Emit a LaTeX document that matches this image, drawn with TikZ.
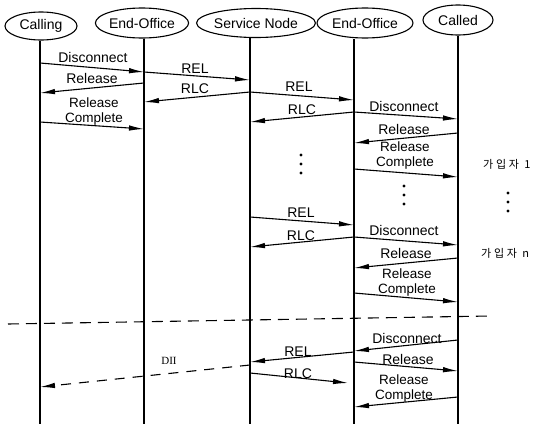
\documentclass[tikz,border=0pt]{standalone}
\usepackage{fontspec}
\setmainfont{Liberation Sans}
\newfontfamily\krfont[LetterSpace=25]{Noto Sans CJK KR}
\newfontfamily\serifx{Liberation Serif}
\usetikzlibrary{arrows.meta,shapes.geometric}
\begin{document}
\begin{tikzpicture}[x=1pt,y=-1pt,
  head/.style={ellipse, draw, line width=1.1pt, inner sep=0pt, font=\fontsize{14}{15}\selectfont},
  life/.style={line width=2.4pt},
  msg/.style={line width=1.1pt, -{Latex[length=15pt,width=5.5pt]}},
  dmsg/.style={msg, dash pattern=on 10pt off 8pt},
  lbl/.style={anchor=base, inner sep=0pt, font=\fontsize{14}{15}\selectfont},
  lbl2/.style={anchor=north, inner sep=0pt, align=center, font=\fontsize{13.5}{14.5}\selectfont},
  krlbl/.style={anchor=west, inner sep=0pt, font=\fontsize{11}{12}\krfont},
  dotmark/.style={fill=black}]
\useasboundingbox (0,0) rectangle (542,434);

% headers
\node[head, minimum width=72pt, minimum height=28pt] (calling) at (41,26) {Calling};
\node[head, minimum width=92pt, minimum height=30pt] (eo1) at (142,23) {End-Office};
\node[head, minimum width=108pt, minimum height=29pt] (sn) at (256,23) {Service Node};
\node[head, minimum width=96pt, minimum height=30pt] (eo2) at (365,23) {End-Office};
\node[head, minimum width=70pt, minimum height=30pt] (called) at (458,20) {Called};

% lifeline positions
\coordinate (C) at (40,0);
\coordinate (E1) at (144,0);
\coordinate (S) at (250,0);
\coordinate (E2) at (354,0);
\coordinate (D) at (458,0);

\draw[life] (C |- calling.south) -- (C |- 0,424);
\draw[life] (E1 |- eo1.south) -- (E1 |- 0,424);
\draw[life] (S |- sn.south) -- (S |- 0,424);
\draw[life] (E2 |- eo2.south) -- (E2 |- 0,424);
\draw[life] (D |- called.south) -- (D |- 0,424);

% first block
\draw[msg] (C |- 0,63) -- (E1 |- 0,72);
\node[lbl] (t1) at (93,62) {Disconnect};
\draw[msg] (E1 |- 0,72) -- (S |- 0,80);
\node[lbl] (t2) at (195,73) {REL};
\draw[msg] (E1 |- 0,83) -- (C |- 0,93);
\node[lbl] (t3) at (92,83) {Release};
\draw[msg] (S |- 0,92) -- (E1 |- 0,102);
\node[lbl] (t4) at (195,93) {RLC};
\draw[msg] (C |- 0,122) -- (E1 |- 0,129);
\node[lbl2] (t5) at (94,98) {Release\\Complete};

\draw[msg] (S |- 0,92) -- (E2 |- 0,100);
\node[lbl] (t6) at (299,91) {REL};
\draw[msg] (E2 |- 0,112) -- (S |- 0,122);
\node[lbl] (t7) at (302,114) {RLC};
\draw[msg] (E2 |- 0,112) -- (D |- 0,119);
\node[lbl] (t8) at (404,111) {Disconnect};
\draw[msg] (D |- 0,133) -- (E2 |- 0,143);
\node[lbl] (t9) at (404,134) {Release};
\draw[msg] (E2 |- 0,169) -- (D |- 0,177);
\node[lbl2] (t10) at (405,142) {Release\\Complete};

% dots
\fill[dotmark] (301,155) circle (1.7) (301,164) circle (1.7) (301,173) circle (1.7);
\fill[dotmark] (404,186) circle (1.7) (404,195) circle (1.7) (404,204) circle (1.7);
\fill[dotmark] (508,193) circle (1.7) (508,202) circle (1.7) (508,211) circle (1.7);

\node[krlbl] (k1) at (483,164) {가입자 1};
\node[krlbl] (k2) at (481,253) {가입자 n};

% second block
\draw[msg] (S |- 0,217) -- (E2 |- 0,225);
\node[lbl] (t11) at (301,217) {REL};
\draw[msg] (E2 |- 0,237) -- (S |- 0,247);
\node[lbl] (t12) at (301,240) {RLC};
\draw[msg] (E2 |- 0,237) -- (D |- 0,245);
\node[lbl] (t13) at (404,235) {Disconnect};
\draw[msg] (D |- 0,258) -- (E2 |- 0,268);
\node[lbl] (t14) at (406,258) {Release};
\draw[msg] (E2 |- 0,293) -- (D |- 0,302);
\node[lbl2] (t15) at (407,269) {Release\\Complete};

% separator
\coordinate (sepL) at (8,324);
\coordinate (sepR) at (490,316);
\draw[line width=1.1pt, dash pattern=on 11pt off 7pt] (sepL) -- (sepR);

% third block
\draw[msg] (D |- 0,340) -- (E2 |- 0,351);
\node[lbl] (t16) at (407,343) {Disconnect};
\draw[msg] (E2 |- 0,352) -- (S |- 0,362);
\node[lbl] (t17) at (298,356) {REL};
\draw[msg] (E2 |- 0,362) -- (D |- 0,371);
\node[lbl] (t18) at (408,364) {Release};
\coordinate (rlcEnd) at (348,383);
\draw[msg] (S |- 0,373) -- (rlcEnd);
\node[lbl] (t19) at (298,378) {RLC};
\draw[msg] (D |- 0,397) -- (E2 |- 0,407);
\node[lbl2] (t20) at (404,375) {Release\\Complete};

\draw[dmsg] (S |- 0,365) -- (C |- 0,387);
\node[anchor=base, inner sep=0pt, font=\fontsize{11}{12}\serifx] (t21) at (169,364) {DII};
\end{tikzpicture}
\end{document}
